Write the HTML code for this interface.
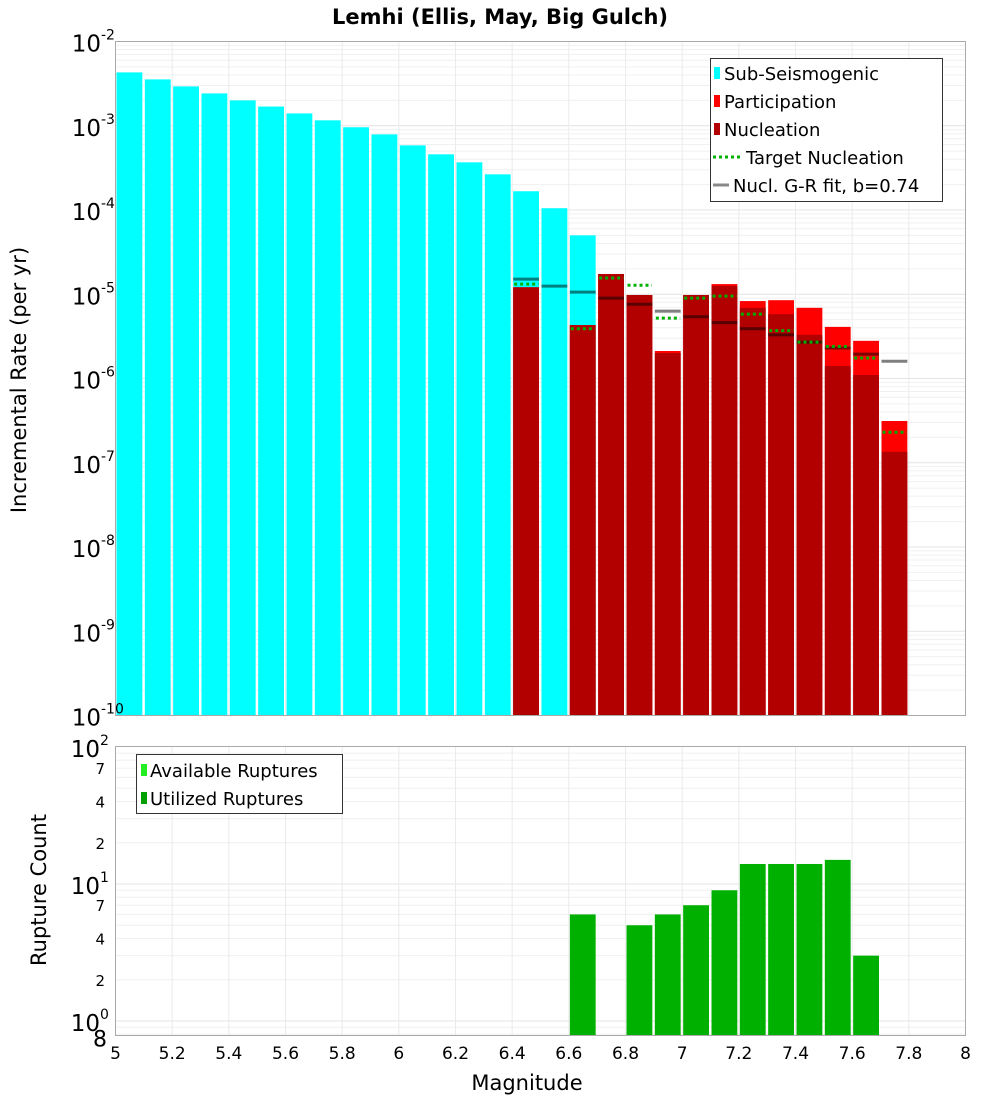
<!DOCTYPE html>
<html><head><meta charset="utf-8"><style>
body{margin:0;background:#fff;font-family:"DejaVu Sans","Liberation Sans",sans-serif}
svg text{font-family:"DejaVu Sans","Liberation Sans",sans-serif}
</style></head><body>
<svg id="c" width="1000" height="1100" xmlns="http://www.w3.org/2000/svg"></svg>
<script>
const mags=[5.0,5.1,5.2,5.3,5.4,5.5,5.6,5.7,5.8,5.9,6.0,6.1,6.2,6.3,6.4,6.5,6.6,6.7,6.8,6.9,7.0,7.1,7.2,7.3,7.4,7.5,7.6,7.7];
const subSeis=[4.3e-3,3.55e-3,2.93e-3,2.42e-3,2.0e-3,1.69e-3,1.40e-3,1.16e-3,9.6e-4,7.9e-4,5.85e-4,4.58e-4,3.68e-4,2.65e-4,1.67e-4,1.05e-4,5.0e-5,0,0,0,0,0,0,0,0,0,0,0];
const partic=[0,0,0,0,0,0,0,0,0,0,0,0,0,0,1.21e-5,0,4.3e-6,1.74e-5,9.8e-6,2.12e-6,9.8e-6,1.32e-5,8.3e-6,8.5e-6,6.9e-6,4.1e-6,2.8e-6,3.13e-7];
const nucl=[0,0,0,0,0,0,0,0,0,0,0,0,0,0,1.21e-5,0,4.3e-6,1.74e-5,9.8e-6,2.0e-6,9.8e-6,1.25e-5,6.9e-6,5.8e-6,3.3e-6,1.41e-6,1.1e-6,1.35e-7];
const targetNucl=[0,0,0,0,0,0,0,0,0,0,0,0,0,0,1.32e-5,0,3.9e-6,1.56e-5,1.28e-5,5.2e-6,9.0e-6,9.5e-6,5.8e-6,3.7e-6,2.7e-6,2.4e-6,1.75e-6,2.3e-7];
const grFit=[0,0,0,0,0,0,0,0,0,0,0,0,0,0,1.51e-5,1.25e-5,1.06e-5,9.0e-6,7.6e-6,6.3e-6,5.4e-6,4.6e-6,3.9e-6,3.3e-6,2.7e-6,2.3e-6,1.95e-6,1.6e-6];
const utilized=[0,0,0,0,0,0,0,0,0,0,0,0,0,0,0,0,6,0,5,6,7,9,14,14,14,15,3,0];
const xTicks=[5,5.2,5.4,5.6,5.8,6,6.2,6.4,6.6,6.8,7,7.2,7.4,7.6,7.8,8];
const topDecades=[-2,-3,-4,-5,-6,-7,-8,-9,-10];
const botMinorLabels=[[70,"7"],[40,"4"],[20,"2"],[7,"7"],[4,"4"],[2,"2"],[0.8,"8"]];

const S=document.getElementById('c');const NS='http://www.w3.org/2000/svg';
function el(t,a,p){const e=document.createElementNS(NS,t);for(const k in a)e.setAttribute(k,a[k]);(p||S).appendChild(e);return e;}
const L=115.5,R=965.5,T1=41.5,B1=715.5,T2=746.5,B2=1035.5;
const X=m=>L+(m-5)/3*(R-L);
const Y1=v=>T1+(-2-Math.log10(v))*(B1-T1)/8;
const Y2=v=>884+(1-Math.log10(v))*137;

// grids
const g=el('g',{});
for(let d=-10;d<-2;d++)for(let k=1;k<10;k++){const y=Y1(k*Math.pow(10,d));el('line',{x1:L,x2:R,y1:y,y2:y,stroke:k==1?'#e4e4e4':'#f0f0f0'},g);}
for(let d=-1;d<2;d++)for(let k=1;k<10;k++){const y=Y2(k*Math.pow(10,d));if(y>T2&&y<B2)el('line',{x1:L,x2:R,y1:y,y2:y,stroke:k==1?'#e4e4e4':'#f0f0f0'},g);}
xTicks.forEach(m=>{el('line',{x1:X(m),x2:X(m),y1:T1,y2:B1,stroke:'#ebebeb'},g);el('line',{x1:X(m),x2:X(m),y1:T2,y2:B2,stroke:'#ebebeb'},g);});

function bar(i,v,fill,name,Y,base){if(!(v>0))return;const x0=X(mags[i]),x1=X(mags[i]+0.1);const y=Y(v);
 const r=el('rect',{x:x0+1,y:y,width:x1-x0-2.5,height:base-y,fill:fill});}
mags.forEach((m,i)=>bar(i,subSeis[i],'#00ffff','sub-seismogenic-bar',Y1,B1));
mags.forEach((m,i)=>bar(i,partic[i],'#ff0000','participation-bar',Y1,B1));
mags.forEach((m,i)=>bar(i,nucl[i],'#b20000','nucleation-bar',Y1,B1));
mags.forEach((m,i)=>{if(grFit[i]>0){const y=Y1(grFit[i]);const l=el('line',{x1:X(m)+1,x2:X(m+0.1)-1.5,y1:y,y2:y,stroke:'#000','stroke-opacity':0.5,'stroke-width':3});}});
mags.forEach((m,i)=>{if(targetNucl[i]>0){const y=Y1(targetNucl[i]);const l=el('line',{x1:X(m)+2,x2:X(m+0.1)-2,y1:y,y2:y,stroke:'#00b000','stroke-width':3,'stroke-dasharray':'3,3'});}});
mags.forEach((m,i)=>bar(i,utilized[i],'#00b000','utilized-ruptures-bar',Y2,B2));

el('rect',{x:L,y:T1,width:R-L,height:B1-T1,fill:'none',stroke:'#aaa'});
el('rect',{x:L,y:T2,width:R-L,height:B2-T2,fill:'none',stroke:'#aaa'});

function txt(x,y,s,a){const t=el('text',Object.assign({x:x,y:y},a));t.textContent=s;return t;}
let t=txt(500,24,'Lemhi (Ellis, May, Big Gulch)',{'text-anchor':'middle','font-size':21,'font-weight':'bold'});
topDecades.forEach(d=>{const y=Y1(Math.pow(10,d));txt(101,y+10,'10',{'text-anchor':'end','font-size':23});txt(101,y-2,String(d),{'font-size':14});});
[[100,'2'],[10,'1'],[1,'0']].forEach(([v,s])=>{const y=Y2(v);txt(100,y+10,'10',{'text-anchor':'end','font-size':23});txt(100,y-2,s,{'font-size':14});});
botMinorLabels.forEach(([v,s])=>{txt(s=='8'?107:105,Y2(v)+(s=='8'?12:6),s,{'text-anchor':'end','font-size':s=='8'?22:15});});
xTicks.forEach(m=>txt(X(m),1059,String(m),{'text-anchor':'middle','font-size':17}));
t=txt(527,1090,'Magnitude',{'text-anchor':'middle','font-size':21});
t=txt(0,0,'Incremental Rate (per yr)',{'text-anchor':'middle','font-size':21,transform:'translate(26,380) rotate(-90)'});
t=txt(0,0,'Rupture Count',{'text-anchor':'middle','font-size':21,transform:'translate(46,890) rotate(-90)'});

// legends
const lg=el('g',{});
el('rect',{x:710.5,y:58.5,width:232,height:143,fill:'#fff',stroke:'#333'},lg);
const items=[['Sub-Seismogenic','#00ffff','box'],['Participation','#ff0000','box'],['Nucleation','#b20000','box'],['Target Nucleation','#00b000','dot'],['Nucl. G-R fit, b=0.74','#888','line']];
items.forEach((it,i)=>{const y=73+i*28;
 if(it[2]=='box')el('rect',{x:714,y:y-6,width:6,height:12,fill:it[1]},lg);
 else if(it[2]=='dot')el('line',{x1:713,x2:742,y1:y,y2:y,stroke:it[1],'stroke-width':3,'stroke-dasharray':'3,3'},lg);
 else el('line',{x1:713,x2:729,y1:y,y2:y,stroke:it[1],'stroke-width':3},lg);
 const e=el('text',{x:it[2]=='box'?724:(it[2]=='dot'?746:733),y:y+7,'font-size':18},lg);e.textContent=it[0];});
const lg2=el('g',{});
el('rect',{x:136.5,y:754.5,width:206,height:59,fill:'#fff',stroke:'#333'},lg2);
[['Available Ruptures','#22ee22'],['Utilized Ruptures','#00a000']].forEach((it,i)=>{const y=770+i*28;el('rect',{x:141,y:y-6,width:6,height:12,fill:it[1]},lg2);const e=el('text',{x:150,y:y+7,'font-size':18},lg2);e.textContent=it[0];});
</script>
</body></html>
